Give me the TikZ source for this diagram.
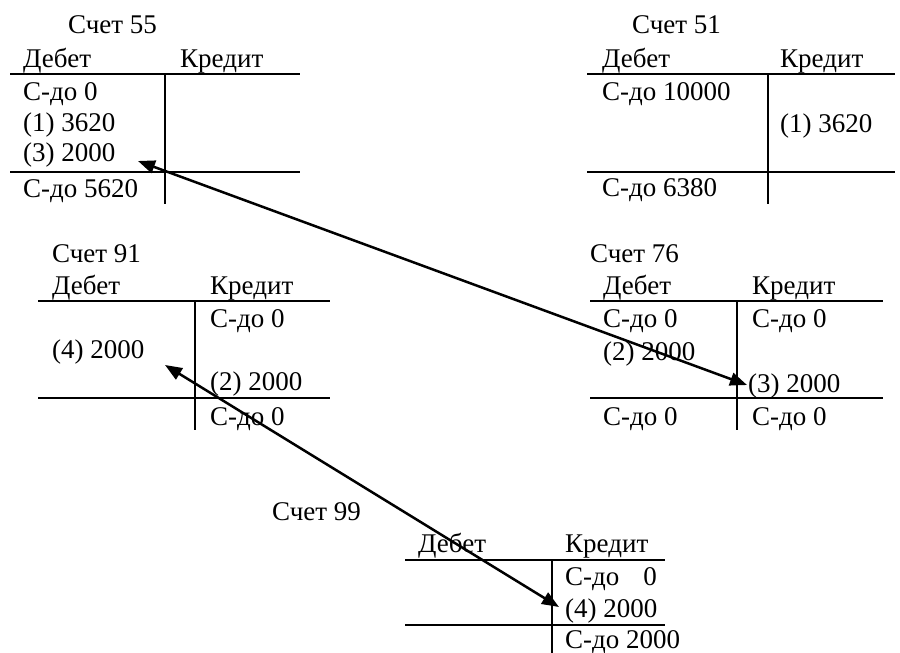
\documentclass[tikz,border=0pt]{standalone}
\usepackage{fontspec}
\setmainfont{Liberation Serif}
\usetikzlibrary{arrows.meta}
\tikzset{
  txt/.style={anchor=base west, inner sep=0pt, font=\fontsize{27}{32}\selectfont},
  rule/.style={line width=1.4pt},
  link/.style={line width=2.5pt, {Triangle[length=17pt,width=13pt]}-{Triangle[length=17pt,width=13pt]}}
}
\begin{document}
\begin{tikzpicture}[x=1pt,y=-1pt]
\useasboundingbox (0,0) rectangle (900,653);
% ---- Account 55
\node[txt] (t55) at (68,34) {Счет 55};
\node[txt] (d55) at (23,67) {Дебет};
\node[txt] (k55) at (180,67) {Кредит};
\draw[rule] (10,74) -- (300,74);
\draw[rule] (10,172) -- (300,172);
\draw[rule] (165,74) -- (165,204);
\node[txt] (r55a) at (23,100) {С-до 0};
\node[txt] (r55b) at (23,131) {(1) 3620};
\node[txt] (r55c) at (23,161) {(3) 2000};
\node[txt] (r55d) at (23,197) {С-до 5620};
% ---- Account 51
\node[txt] (t51) at (632,33) {Счет 51};
\node[txt] (d51) at (602,67) {Дебет};
\node[txt] (k51) at (780,67) {Кредит};
\draw[rule] (587,74) -- (895,74);
\draw[rule] (587,172) -- (895,172);
\draw[rule] (768,74) -- (768,204);
\node[txt] (r51a) at (602,100) {С-до 10000};
\node[txt] (r51b) at (780,132) {(1) 3620};
\node[txt] (r51c) at (602,196) {С-до 6380};
% ---- Account 91
\node[txt] (t91) at (52,262) {Счет 91};
\node[txt] (d91) at (52,294) {Дебет};
\node[txt] (k91) at (210,294) {Кредит};
\draw[rule] (38,301) -- (330,301);
\draw[rule] (38,398) -- (330,398);
\draw[rule] (195,301) -- (195,430);
\node[txt] (r91a) at (210,327) {С-до 0};
\node[txt] (r91b) at (52,358) {(4) 2000};
\node[txt] (r91c) at (210,390) {(2) 2000};
\node[txt] (r91d) at (210,425) {С-до 0};
% ---- Account 76
\node[txt] (t76) at (590,262) {Счет 76};
\node[txt] (d76) at (603,294) {Дебет};
\node[txt] (k76) at (752,294) {Кредит};
\draw[rule] (590,301) -- (883,301);
\draw[rule] (590,398) -- (883,398);
\draw[rule] (737,301) -- (737,430);
\node[txt] (r76a) at (603,327) {С-до 0};
\node[txt] (r76b) at (752,327) {С-до 0};
\node[txt] (r76c) at (603,360) {(2) 2000};
\node[txt] (r76d) at (748,392) {(3) 2000};
\node[txt] (r76e) at (603,425) {С-до 0};
\node[txt] (r76f) at (752,425) {С-до 0};
% ---- Account 99
\node[txt] (t99) at (272,520) {Счет 99};
\node[txt] (d99) at (418,552) {Дебет};
\node[txt] (k99) at (565,552) {Кредит};
\draw[rule] (405,560) -- (665,560);
\draw[rule] (405,625) -- (665,625);
\draw[rule] (552,560) -- (552,653);
\node[txt] (r99a) at (565,585) {С-до\hspace{24pt}0};
\node[txt] (r99b) at (565,617) {(4) 2000};
\node[txt] (r99c) at (565,648) {С-до 2000};
% ---- connectors
\coordinate (p55) at (138,161);
\coordinate (p76) at (747,385);
\coordinate (p91) at (165,365);
\coordinate (p99) at (559,607);
\draw[link] (p55) -- (p76);
\draw[link] (p91) -- (p99);
\end{tikzpicture}
\end{document}
